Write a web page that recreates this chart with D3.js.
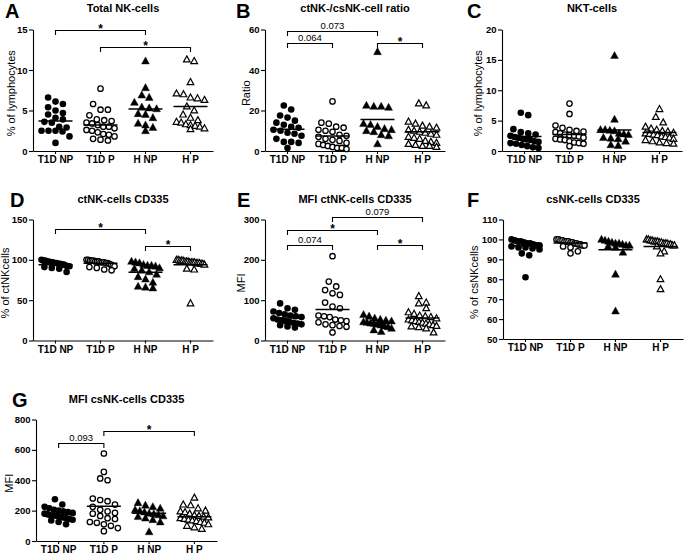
<!DOCTYPE html>
<html><head><meta charset="utf-8">
<script src="https://cdn.jsdelivr.net/npm/d3@7"></script>
<style>
body{margin:0;background:#fff}
svg{display:block}
text{font-family:"Liberation Sans",Arial,Helvetica,sans-serif}
</style>
</head><body>
<svg id="chart" width="685" height="554"></svg>
<script>
// ---------- DATA ----------
const categories = ["T1D NP", "T1D P", "H NP", "H P"];

// A: Total NK-cells (% of lymphocytes)
const totalNK_T1DNP = [6.6, 6.1, 5.8, 5.4, 5.0, 4.7, 4.5, 4.1, 3.9, 3.6, 3.5, 3.0, 2.9, 2.5, 2.5, 2.4, 2.5, 1.8, 1.0];
const totalNK_T1DP  = [7.7, 5.8, 5.1, 5.1, 4.4, 3.9, 3.8, 3.7, 3.5, 3.4, 3.2, 3.0, 3.0, 2.8, 2.6, 2.5, 2.3, 2.1, 2.0, 1.8, 1.5, 1.4, 1.3];
const totalNK_HNP   = [11.1, 7.8, 6.9, 6.6, 6.0, 5.4, 5.3, 5.2, 4.6, 4.5, 4.1, 3.4, 3.2, 2.9, 2.5];
const totalNK_HP    = [11.3, 11.1, 8.5, 7.1, 7.0, 6.6, 6.5, 6.3, 5.5, 5.0, 4.5, 4.1, 3.8, 3.6, 3.5, 3.3, 3.2, 3.1, 3.0, 2.8, 2.7];
const totalNK_means = [3.7, 3.2, 5.2, 5.5];

// B: ctNK-/csNK-cell ratio
const ratio_T1DNP = [22.5, 20.5, 17.5, 16.5, 15, 14, 13, 12, 11.5, 10.5, 10, 9, 8.5, 7.5, 6, 4.5, 4.5, 4, 1.5];
const ratio_T1DP  = [24.5, 14, 13.5, 12, 11.5, 10.5, 10, 9.5, 8, 7.5, 7, 6, 5.5, 5, 4, 3.5, 3, 2.5, 2, 1.5, 1.5, 1.0];
const ratio_HNP   = [49, 22.5, 22, 22, 21.5, 13.5, 13, 12, 11, 10.5, 10, 9.5, 8, 7.5, 3.5];
const ratio_HP    = [23.5, 22.5, 14.5, 13.5, 12.5, 12, 11.5, 10.5, 10, 9.5, 9, 8.5, 8, 7, 6.5, 6, 5, 4.5, 4, 3.5, 3, 2.5, 2.5, 2];
const ratio_means = [10.7, 7.4, 15.6, 9.5];

// C: NKT-cells (% of lymphocytes)
const nkt_T1DNP = [6.3, 5.9, 3.6, 3.1, 2.9, 2.7, 2.5, 2.3, 2.2, 2.0, 1.9, 1.8, 1.6, 1.5, 1.3, 1.2, 1.0, 0.8, 0.6, 0.5];
const nkt_T1DP  = [7.8, 6.1, 4.2, 3.8, 3.5, 3.3, 3.2, 3.1, 2.9, 2.7, 2.6, 2.5, 2.4, 2.2, 2.0, 1.9, 1.8, 1.6, 1.4, 1.3, 1.2, 0.8];
const nkt_HNP   = [15.7, 5.2, 3.5, 3.5, 3.4, 3.3, 2.9, 2.8, 2.7, 2.2, 2.1, 2.0, 1.6, 1.0, 0.9];
const nkt_HP    = [6.9, 5.6, 4.7, 4.0, 3.7, 3.5, 3.3, 3.2, 3.0, 2.9, 2.8, 2.7, 2.6, 2.4, 2.3, 2.2, 2.0, 1.8, 1.6, 1.4, 1.3, 1.2];
const nkt_means = [2.4, 2.7, 3.45, 3.05];

// D: ctNK-cells CD335 (% of ctNKcells)
const ctCD_T1DNP = [100, 99, 99, 98, 98, 97, 97, 96, 96, 95, 95, 94, 94, 93, 92, 92, 91, 90, 89, 85];
const ctCD_T1DP  = [100, 100, 99, 99, 99, 98, 98, 98, 97, 97, 97, 96, 96, 95, 94, 93, 92, 91, 90, 88, 87];
const ctCD_HNP   = [98, 97, 96, 94, 93, 93, 92, 90, 89, 87, 85, 82, 79, 76, 72, 67, 66, 65];
const ctCD_HP    = [100, 100, 99, 99, 99, 98, 98, 98, 97, 97, 97, 97, 96, 96, 96, 95, 95, 94, 89, 88, 46];
const ctCD_means = [94, 95.8, 84.7, 93.8];

// E: MFI ctNK-cells CD335
const ctMFI_T1DNP = [92, 80, 76, 72, 68, 65, 62, 60, 58, 55, 52, 50, 48, 46, 44, 42, 40, 38, 35, 32];
const ctMFI_T1DP  = [209, 146, 134, 125, 117, 113, 94, 84, 80, 62, 60, 58, 52, 50, 48, 45, 40, 38, 36, 34, 20];
const ctMFI_HNP   = [64, 60, 55, 52, 50, 48, 46, 45, 43, 42, 40, 38, 36, 34, 30, 26, 22];
const ctMFI_HP    = [110, 94, 92, 80, 70, 66, 62, 60, 58, 55, 52, 50, 48, 46, 44, 42, 40, 38, 36, 35, 33, 30, 20];
const ctMFI_means = [56, 77, 43, 56];

// F: csNK-cells CD335 (% of csNKcells)
const csCD_T1DNP = [100, 99.5, 99, 99, 98.5, 98, 98, 97.5, 97, 97, 96.5, 96, 96, 95.5, 95, 93, 92, 81];
const csCD_T1DP  = [100, 100, 99.5, 99.5, 99, 99, 99, 98.5, 98.5, 98, 98, 97.5, 97.5, 97, 97, 96.5, 96, 94, 93];
const csCD_HNP   = [100, 99.5, 99, 98.5, 98, 98, 97.5, 97, 97, 96.5, 96, 93.5, 82.5, 64];
const csCD_HP    = [100, 100, 99.5, 99.5, 99, 99, 99, 98.5, 98.5, 98, 98, 98, 97.5, 97.5, 97, 97, 96.5, 94, 93, 80, 75];
const csCD_means = [96.8, 98.2, 94.8, 96.5];

// G: MFI csNK-cells CD335
const csMFI_T1DNP = [275, 240, 225, 215, 205, 200, 195, 190, 185, 180, 175, 170, 168, 165, 160, 155, 150, 145, 140, 135, 125, 110];
const csMFI_T1DP  = [576, 455, 412, 400, 280, 270, 262, 240, 225, 205, 195, 185, 180, 165, 150, 145, 125, 120, 110, 100, 85, 65];
const csMFI_HNP   = [252, 235, 225, 215, 205, 198, 190, 182, 178, 172, 165, 160, 150, 140, 125, 60];
const csMFI_HP    = [285, 240, 235, 215, 200, 195, 190, 180, 170, 165, 160, 155, 150, 145, 140, 135, 130, 125, 120, 110, 100, 90, 80];
const csMFI_means = [175, 228, 182, 160];

// significance brackets: [from, to, level (data units), label]
const brA = [["T1D NP", "H NP", 14.9, "*"], ["T1D P", "H P", 12.8, "*"]];
const brB = [["T1D NP", "H NP", 59.3, "0.073"], ["T1D NP", "T1D P", 53.5, "0.064"], ["H NP", "H P", 53.5, "*"]];
const brD = [["T1D NP", "H NP", 138, "*"], ["H NP", "H P", 117.5, "*"]];
const brE = [["T1D P", "H P", 305, "0.079"], ["T1D NP", "H NP", 274, "*"], ["T1D NP", "T1D P", 237, "0.074"], ["H NP", "H P", 237, "*"]];
const brG = [["T1D P", "H P", 721, "*"], ["T1D NP", "T1D P", 642, "0.093"]];

// ---------- LAYOUT ----------
const panels = [
  {letter:"A", title:"Total NK-cells", ylab:"% of lymphocytes", domain:[0,15], ticks:[0,5,10,15],
   groups:[totalNK_T1DNP,totalNK_T1DP,totalNK_HNP,totalNK_HP], means:totalNK_means, br:brA,
   x0:33, x1:213, yt:29.5, yb:151, lx:5, ly:18, ty:12, labX:15},
  {letter:"B", title:"ctNK-/csNK-cell ratio", ylab:"Ratio", domain:[0,60], ticks:[0,20,40,60],
   groups:[ratio_T1DNP,ratio_T1DP,ratio_HNP,ratio_HP], means:ratio_means, br:brB,
   x0:265, x1:445, yt:29.5, yb:151, lx:236, ly:18, ty:12, labX:250},
  {letter:"C", title:"NKT-cells", ylab:"% of lymphocytes", domain:[0,20], ticks:[0,5,10,15,20],
   groups:[nkt_T1DNP,nkt_T1DP,nkt_HNP,nkt_HP], means:nkt_means, br:[],
   x0:502, x1:682, yt:29.5, yb:151, lx:467, ly:18, ty:12, labX:482},
  {letter:"D", title:"ctNK-cells CD335", ylab:"% of ctNKcells", domain:[0,150], ticks:[0,50,100,150],
   groups:[ctCD_T1DNP,ctCD_T1DP,ctCD_HNP,ctCD_HP], means:ctCD_means, br:brD,
   x0:33, x1:213, yt:219.5, yb:340.5, lx:10, ly:207, ty:203, labX:9},
  {letter:"E", title:"MFI ctNK-cells CD335", ylab:"MFI", domain:[0,300], ticks:[0,100,200,300],
   groups:[ctMFI_T1DNP,ctMFI_T1DP,ctMFI_HNP,ctMFI_HP], means:ctMFI_means, br:brE,
   x0:265, x1:445, yt:219.5, yb:340.5, lx:237, ly:207, ty:203, labX:245},
  {letter:"F", title:"csNK-cells CD335", ylab:"% of csNKcells", domain:[50,110], ticks:[50,60,70,80,90,100,110],
   groups:[csCD_T1DNP,csCD_T1DP,csCD_HNP,csCD_HP], means:csCD_means, br:[],
   x0:503, x1:683, yt:219.5, yb:339, lx:467, ly:207, ty:203, labX:478},
  {letter:"G", title:"MFI csNK-cells CD335", ylab:"MFI", domain:[0,800], ticks:[0,200,400,600,800],
   groups:[csMFI_T1DNP,csMFI_T1DP,csMFI_HNP,csMFI_HP], means:csMFI_means, br:brG,
   x0:36, x1:217, yt:419.5, yb:541, lx:12, ly:407, ty:403, labX:13}
];

const svg = d3.select("#chart");
const R = 3.3, BIN = 6.5, SP = 7.4, MAXW = 28;

// Prism-style row layout: points whose y lie within BIN px share a row, spread symmetric around centre
function swarm(vals, y, cx){
  const pts = vals.map(v=>({v, py:y(v)})).sort((a,b)=>a.py-b.py);
  const rows = [];
  let cur = null;
  pts.forEach(p=>{
    if(!cur || p.py - cur.start > BIN){ cur = {start:p.py, items:[]}; rows.push(cur); }
    cur.items.push(p);
  });
  rows.forEach(r=>{
    const n = r.items.length;
    const sp = n>1 ? Math.min(SP, MAXW/(n-1)) : 0;
    r.items.forEach((p,i)=>{ p.px = cx + (i-(n-1)/2)*sp; });
  });
  return pts;
}

function marker(g, kind, px, py){
  if(kind<2){
    g.append("circle").attr("cx",px).attr("cy",py).attr("r", kind===0?R:R-0.6)
     .attr("fill", kind===0?"#000":"#fff").attr("stroke","#000").attr("stroke-width", kind===0?0:1.3);
  } else {
    const s = kind===2?1:0.85;
    const pts = [[0,-4.2*s],[3.9*s,2.9*s],[-3.9*s,2.9*s]].map(p=>[px+p[0],py+p[1]]);
    g.append("path").attr("d","M"+pts.map(p=>p.join(",")).join("L")+"Z")
     .attr("fill", kind===2?"#000":"#fff").attr("stroke","#000").attr("stroke-width", kind===2?0.4:1.2)
     .attr("stroke-linejoin","miter");
  }
}

panels.forEach(p=>{
  const g = svg.append("g");
  const x = d3.scaleBand().domain(categories).range([p.x0,p.x1]);
  const y = d3.scaleLinear().domain(p.domain).range([p.yb,p.yt]);
  const cxOf = c => x(c)+x.bandwidth()/2;

  // y axis
  const ya = g.append("g").attr("transform",`translate(${p.x0},0)`)
    .call(d3.axisLeft(y).tickValues(p.ticks).tickSize(4).tickSizeOuter(0).tickPadding(1.5));
  ya.selectAll("text").attr("font-size",9.5).attr("font-weight","bold").attr("fill","#000")
    .style("font-family",'"Liberation Sans",Arial,sans-serif');
  ya.selectAll("line,path").attr("stroke","#000").attr("stroke-width",1.1);

  // x axis
  const xa = g.append("g").attr("transform",`translate(0,${p.yb})`)
    .call(d3.axisBottom(x).tickSize(3).tickSizeOuter(0).tickPadding(2));
  xa.selectAll("text").attr("font-size",10).attr("font-weight","bold").attr("fill","#000")
    .style("font-family",'"Liberation Sans",Arial,sans-serif');
  xa.selectAll("line,path").attr("stroke","#000").attr("stroke-width",1.1);

  // letter & title
  g.append("text").attr("x",p.lx).attr("y",p.ly).attr("font-size",20).attr("font-weight","bold").text(p.letter);
  g.append("text").attr("x",(p.x0+p.x1)/2).attr("y",p.ty).attr("text-anchor","middle")
    .attr("font-size",11).attr("font-weight","bold").text(p.title);

  // y label
  g.append("text").attr("transform",`translate(${p.labX},${(p.yt+p.yb)/2+3}) rotate(-90)`)
    .attr("text-anchor","middle").attr("font-size",11).text(p.ylab);

  // points
  p.groups.forEach((vals,gi)=>{
    const cx = cxOf(categories[gi]);
    swarm(vals, y, cx).forEach(pt=>marker(g, gi, pt.px, pt.py));
    g.append("line").attr("x1",cx-17).attr("x2",cx+17)
      .attr("y1",y(p.means[gi])).attr("y2",y(p.means[gi]))
      .attr("stroke","#000").attr("stroke-width",1.5);
  });

  // brackets
  p.br.forEach(b=>{
    const x1 = cxOf(b[0]), x2 = cxOf(b[1]), yy = Math.round(y(b[2]))+0.5;
    g.append("path").attr("d",`M${x1},${yy+4.5}V${yy}H${x2}V${yy+4.5}`)
      .attr("fill","none").attr("stroke","#000").attr("stroke-width",1.1);
    const star = b[3]==="*";
    g.append("text").attr("x",(x1+x2)/2).attr("y", star? yy+2 : yy-2.5)
      .attr("text-anchor","middle").attr("font-size", star?12:9.5)
      .attr("font-weight", star?"bold":"normal").text(b[3]);
  });
});
</script>
</body></html>
